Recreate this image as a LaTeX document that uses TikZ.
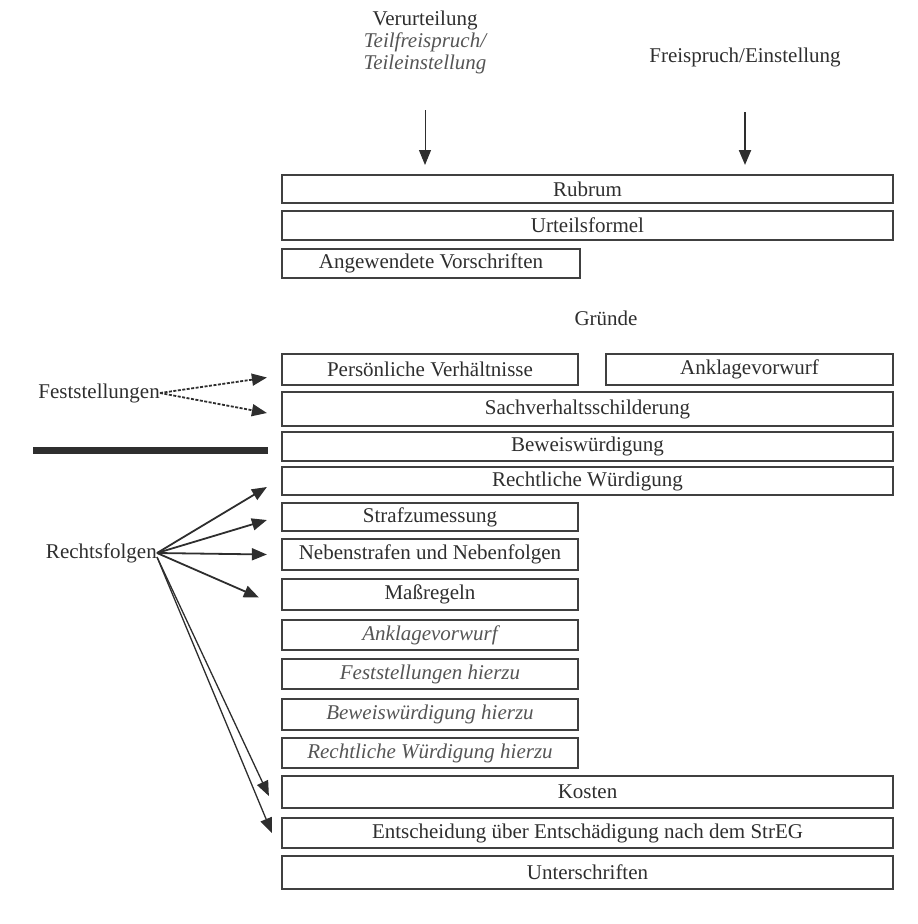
\documentclass[tikz,border=0pt]{standalone}
\usepackage{fontspec}
\setmainfont{Liberation Serif}
\usetikzlibrary{arrows.meta}
\definecolor{ink}{HTML}{2E2E2E}
\definecolor{frame}{HTML}{404040}
\definecolor{soft}{HTML}{555555}
% box given by its corners: \bx{style}{name}{x1}{y1}{x2}{y2}{text}
\newcommand\bx[7]{\node[#1, minimum width={(#5)-(#3)}, minimum height={(#6)-(#4)}]
  (#2) at ({((#3)+(#5))/2},{((#4)+(#6))/2}) {#7};}
\begin{document}
\begin{tikzpicture}[x=1pt,y=-1pt,
  txt/.style={text=ink, inner sep=0pt, font=\fontsize{21}{22}\selectfont},
  box/.style={txt, draw=frame, line width=2.2pt},
  ibox/.style={box, text=soft, font=\fontsize{21}{22}\selectfont\itshape},
  arr/.style={draw=ink, line width=1.8pt, -{Triangle[length=15pt,width=12pt]}},
  darr/.style={arr, dash pattern=on 3pt off 1.5pt},
]
\useasboundingbox (0,0) rectangle (918,924);

% heading labels and their arrows
\node[txt, align=center] (verurt) at (425,42)
  {Verurteilung\\{\color{soft}\itshape Teilfreispruch/}\\{\color{soft}\itshape Teileinstellung}};
\node[txt] (frei) at (745,57) {Freispruch/Einstellung};
\coordinate (v0) at (425,110); \coordinate (v1) at (425,165);
\coordinate (f0) at (745,112); \coordinate (f1) at (745,165);
\draw[arr, line width=1pt] (v0) -- (v1);
\draw[arr, line width=2.2pt] (f0) -- (f1);

% parts of the judgment
\bx{box}{rubrum}{282}{175}{893}{203}{Rubrum}
\bx{box}{formel}{282}{211}{893}{240}{Urteilsformel}
\bx{box}{vorschr}{282}{249}{580}{278}{Angewendete Vorschriften}
\node[txt] (gruende) at (606,318) {Gründe};
\bx{box}{pers}{282}{354}{578}{385}{Persönliche Verhältnisse}
\bx{box}{anklage}{606}{354}{893}{385}{Anklagevorwurf}
\bx{box}{sachv}{282}{392}{893}{426}{Sachverhaltsschilderung}
\bx{box}{beweis}{282}{432}{893}{461}{Beweiswürdigung}
\bx{box}{recht}{282}{467}{893}{495}{Rechtliche Würdigung}
\bx{box}{straf}{282}{503}{578}{531}{Strafzumessung}
\bx{box}{neben}{282}{539}{578}{570}{Nebenstrafen und Nebenfolgen}
\bx{box}{mass}{282}{579}{578}{610}{Maßregeln}
\bx{ibox}{anklageb}{282}{620}{578}{650}{Anklagevorwurf}
\bx{ibox}{festb}{282}{659}{578}{689}{Feststellungen hierzu}
\bx{ibox}{beweisb}{282}{699}{578}{730}{Beweiswürdigung hierzu}
\bx{ibox}{rechtb}{282}{738}{578}{768}{Rechtliche Würdigung hierzu}
\bx{box}{kosten}{282}{776}{893}{808}{Kosten}
\bx{box}{streg}{282}{818}{893}{848}{Entscheidung über Entschädigung nach dem StrEG}
\bx{box}{unter}{282}{856}{893}{889}{Unterschriften}

% Feststellungen
\node[txt, anchor=east] (fest) at (160,393) {Feststellungen};
\draw[darr] (fest.east) -- ([xshift=-14pt,yshift=-8pt]pers.west);
\draw[darr] (fest.east) -- ([xshift=-14pt,yshift=-4pt]sachv.west);

% dividing bar
\draw[draw=ink, line width=7pt] (33,450) -- (268,450);

% Rechtsfolgen
\node[txt, anchor=east] (rf) at (157,553) {Rechtsfolgen};
\draw[arr] (rf.east) -- ([xshift=-14pt,yshift=-6pt]recht.west);
\draw[arr] (rf.east) -- ([xshift=-14pt,yshift=-3pt]straf.west);
\draw[arr] (rf.east) -- ([xshift=-14pt]neben.west);
\draw[arr] (rf.east) -- ([xshift=-22pt,yshift=-3pt]mass.west);
\draw[arr, line width=1.3pt] ([yshift=-4pt]rf.east) -- ([xshift=-12pt,yshift=-4pt]kosten.west);
\draw[arr, line width=1.3pt] ([yshift=-4pt]rf.east) -- ([xshift=-9pt]streg.west);
\end{tikzpicture}
\end{document}
